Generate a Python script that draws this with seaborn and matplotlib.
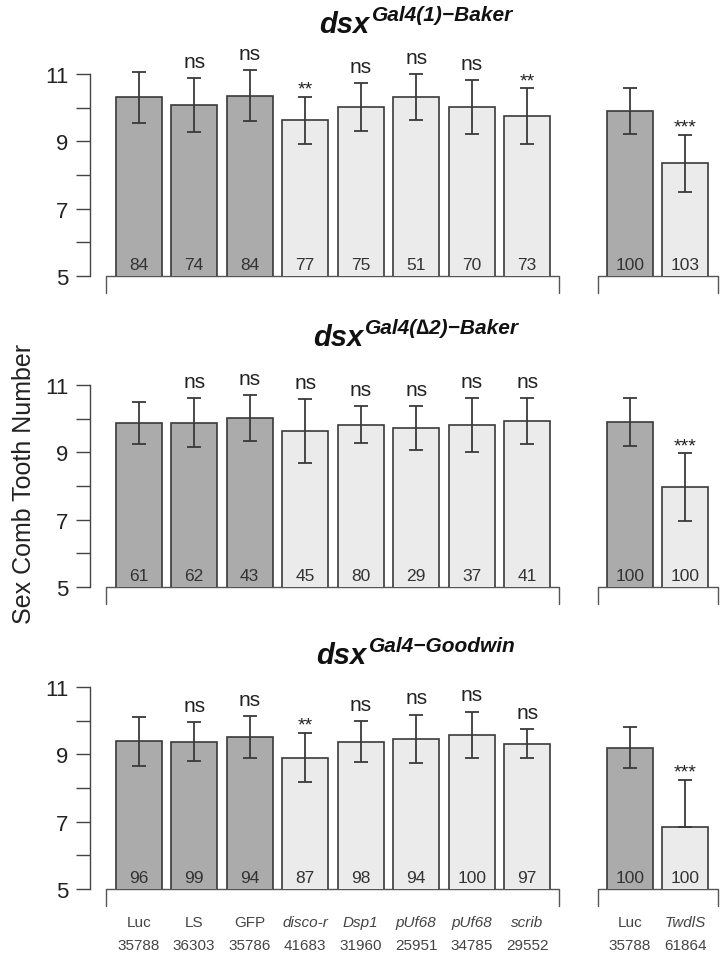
import matplotlib
matplotlib.use("Agg")
import matplotlib.pyplot as plt
import seaborn as sns
import numpy as np
import pandas as pd

# ---------------- data ----------------
genotypes = ["Luc", "LS", "GFP", "disco-r", "Dsp1", "pUf68", "pUf68", "scrib", "Luc", "TwdlS"]
stocks = ["35788", "36303", "35786", "41683", "31960", "25951", "34785", "29552", "35788", "61864"]
is_control = [True, True, True, False, False, False, False, False, True, False]
group_id = [1, 1, 1, 1, 1, 1, 1, 1, 2, 2]
title_main = "dsx"
title_sup = ["Gal4(1)\u2212Baker", "Gal4(\u22062)\u2212Baker", "Gal4\u2212Goodwin"]
ylabel = "Sex Comb Tooth Number"

mean_p1 = [10.31, 10.08, 10.35, 9.62, 10.02, 10.31, 10.02, 9.75, 9.91, 8.35]
sd_up_p1 = [0.76, 0.80, 0.76, 0.69, 0.72, 0.68, 0.81, 0.82, 0.68, 0.85]
sd_dn_p1 = [0.76, 0.80, 0.76, 0.69, 0.72, 0.68, 0.81, 0.82, 0.68, 0.85]
n_p1 = [84, 74, 84, 77, 75, 51, 70, 73, 100, 103]
sig_p1 = ["", "ns", "ns", "**", "ns", "ns", "ns", "**", "", "***"]

mean_p2 = [9.88, 9.88, 10.01, 9.62, 9.82, 9.73, 9.82, 9.93, 9.91, 7.97]
sd_up_p2 = [0.62, 0.72, 0.68, 0.95, 0.55, 0.65, 0.80, 0.69, 0.71, 1.00]
sd_dn_p2 = [0.62, 0.72, 0.68, 0.95, 0.55, 0.65, 0.80, 0.69, 0.71, 1.00]
n_p2 = [61, 62, 43, 45, 80, 29, 37, 41, 100, 100]
sig_p2 = ["", "ns", "ns", "ns", "ns", "ns", "ns", "ns", "", "***"]

mean_p3 = [9.39, 9.38, 9.52, 8.90, 9.38, 9.46, 9.58, 9.32, 9.20, 6.84]
sd_up_p3 = [0.73, 0.59, 0.63, 0.73, 0.62, 0.72, 0.69, 0.44, 0.60, 1.39]
sd_dn_p3 = [0.73, 0.59, 0.63, 0.73, 0.62, 0.72, 0.69, 0.44, 0.60, 0.00]
n_p3 = [96, 99, 94, 87, 98, 94, 100, 97, 100, 100]
sig_p3 = ["", "ns", "ns", "**", "ns", "ns", "ns", "ns", "", "***"]

panels = [
    (mean_p1, sd_up_p1, sd_dn_p1, n_p1, sig_p1),
    (mean_p2, sd_up_p2, sd_dn_p2, n_p2, sig_p2),
    (mean_p3, sd_up_p3, sd_dn_p3, n_p3, sig_p3),
]

# ---------------- style ----------------
sns.set_theme(style="white")
plt.rcParams["font.family"] = ["Liberation Sans", "DejaVu Sans"]

DARK = "#ababab"
LIGHT = "#ebebeb"
EDGE = "#3a3a3a"
TXT = "#333333"

W, H = 722, 954
fig = plt.figure(figsize=(W / 100, H / 100), dpi=100)

GROUP_GAP = 0.85
positions = [i + (GROUP_GAP if g == 2 else 0.0) for i, g in enumerate(group_id)]

# axes geometry (pixels from top): y=11 tick, y=5 tick
tick11_px = [75, 386, 688]
px_per_unit = 202 / 6.0
YMIN, YMAX = 5, 11.8
XMIN, XMAX = -0.877, 10.5
ax_left = 90 / W
ax_width = (XMAX - XMIN) * 55.5 / W
title_base_off = [42, 40, 24]

axes = []
for p, (means, sup, sdn, ns_, sigs) in enumerate(panels):
    y5_px = tick11_px[p] + 6 * px_per_unit
    top_px = tick11_px[p] - (YMAX - 11) * px_per_unit
    ax = fig.add_axes([ax_left, 1 - y5_px / H, ax_width, (y5_px - top_px) / H])
    axes.append(ax)
    df = pd.DataFrame({"pos": positions, "mean": means,
                       "kind": ["ctrl" if c else "kd" for c in is_control]})
    sns.barplot(data=df, x="pos", y="mean", hue="kind", native_scale=True,
                palette={"ctrl": DARK, "kd": LIGHT}, dodge=False, width=0.83,
                edgecolor=EDGE, linewidth=1.2, saturation=1, errorbar=None,
                legend=False, ax=ax, zorder=2)
    ax.errorbar(positions, means, yerr=[sdn, sup], fmt="none", ecolor=EDGE,
                elinewidth=1.3, capsize=4.7, capthick=1.3, zorder=3)

    ax.set_xlim(XMIN, XMAX)
    ax.set_ylim(YMIN, YMAX)
    ax.set_xlabel("")
    ax.set_ylabel("")
    ax.set_xticks([])
    ax.set_yticks([5, 7, 9, 11])
    ax.set_yticks([6, 8, 10], minor=True)
    ax.tick_params(axis="y", which="both", length=10, width=1.0, color="#444444",
                   left=True, direction="out", pad=5.5)
    ax.tick_params(axis="y", which="major", labelsize=16, labelcolor="#222222")
    for s in ["top", "right", "bottom"]:
        ax.spines[s].set_visible(False)
    ax.spines["left"].set_bounds(5, 11)
    ax.spines["left"].set_color("#444444")
    ax.spines["left"].set_linewidth(1.0)
    ax.patch.set_alpha(0)

    # n labels
    for x, n in zip(positions, ns_):
        ax.text(x, 5.33, str(n), ha="center", va="center", fontsize=12.5, color=TXT)

    # significance labels
    for x, m, u, s in zip(positions, means, sup, sigs):
        if not s:
            continue
        if s == "ns":
            ax.text(x, m + u + 0.33, s, ha="center", va="baseline", fontsize=15,
                    color="#222222")
        else:
            ax.text(x, m + u + 0.10, s, ha="center", va="baseline", fontsize=14,
                    color="#222222")

    # group brackets
    for g in sorted(set(group_id)):
        gp = [x for x, gi in zip(positions, group_id) if gi == g]
        x0, x1 = min(gp) - 0.58, max(gp) + 0.58
        ax.plot([x0, x0, x1, x1], [4.5, 5.0, 5.0, 4.5], color="#555555", lw=1.0,
                clip_on=False, zorder=1)

    # titles
    base_px = tick11_px[p] - title_base_off[p]
    fig.canvas.draw()

# titles: measure and center at ~416 px
renderer = fig.canvas.get_renderer()
for p in range(3):
    base_px = tick11_px[p] - title_base_off[p]
    t1 = fig.text(0, 1 - base_px / H, title_main, fontsize=21, fontweight="bold",
                  fontstyle="italic", va="baseline", ha="left", color="#111111")
    t2 = fig.text(0, 1 - (base_px - 12) / H, title_sup[p], fontsize=15,
                  fontweight="bold", fontstyle="italic", va="baseline", ha="left",
                  color="#111111")
    w1 = t1.get_window_extent(renderer).width
    w2 = t2.get_window_extent(renderer).width
    start = 416 - (w1 + w2 + 2) / 2
    t1.set_x(start / W)
    t2.set_x((start + w1 + 2) / W)

# bottom category labels (under the last panel)
ax = axes[-1]
for x, gname, st, c in zip(positions, genotypes, stocks, is_control):
    ax.text(x, 4.02, gname, ha="center", va="center", fontsize=11,
            fontstyle="normal" if c else "italic", color="#444444")
    ax.text(x, 3.34, st, ha="center", va="center", fontsize=11, color="#444444")

fig.text(24 / W, 1 - 484 / H, ylabel, rotation=90, ha="center", va="center",
         fontsize=18, color="#222222")

fig.savefig("out.png", dpi=100)
